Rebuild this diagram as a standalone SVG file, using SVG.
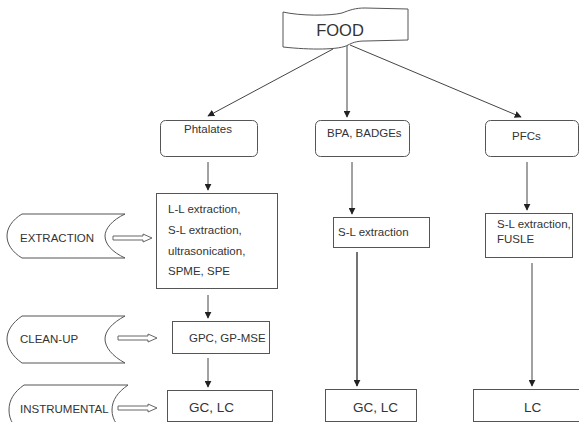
<svg xmlns="http://www.w3.org/2000/svg" width="579" height="422" viewBox="0 0 579 422">
<style>
.s{fill:#fff;stroke:#555;stroke-width:1}
.t{font-family:"Liberation Sans",Arial,sans-serif;font-size:11.5px;fill:#333}
.big{font-size:13.5px}
.c{stroke:#444;stroke-width:1;fill:none}
.h{fill:#fff;stroke:#666;stroke-width:1}
</style>
<defs>
<marker id="ah" viewBox="0 0 10 10" refX="9" refY="5" markerWidth="7" markerHeight="7" markerUnits="userSpaceOnUse" orient="auto">
<path d="M0,0 L10,5 L0,10 Z" fill="#222"/>
</marker>
</defs>
<rect width="579" height="422" fill="#fff"/>

<g id="connectors">
<line class="c" x1="333" y1="49" x2="208" y2="116" marker-end="url(#ah)"/>
<line class="c" x1="347" y1="45" x2="347" y2="117" marker-end="url(#ah)"/>
<line class="c" x1="350" y1="45" x2="521" y2="117" marker-end="url(#ah)"/>
<line class="c" x1="208" y1="162" x2="208" y2="190" marker-end="url(#ah)"/>
<line class="c" x1="208" y1="295" x2="208" y2="318" marker-end="url(#ah)"/>
<line class="c" x1="208" y1="358" x2="208" y2="387" marker-end="url(#ah)"/>
<line class="c" x1="352" y1="162" x2="352" y2="214" marker-end="url(#ah)"/>
<line class="c" x1="357" y1="252" x2="357" y2="386" marker-end="url(#ah)" style="stroke-width:1.5"/>
<line class="c" x1="527" y1="162" x2="527" y2="210" marker-end="url(#ah)"/>
<line class="c" x1="532" y1="263" x2="532" y2="386" marker-end="url(#ah)"/>
<path class="h" d="M113,236 L143,236 L143,234 L152,238 L143,242 L143,240 L113,240 Z"/>
<path class="h" d="M118,336 L148,336 L148,334 L157,338 L148,342 L148,340 L118,340 Z"/>
<path class="h" d="M118,406 L148,406 L148,404 L157,408 L148,412 L148,410 L118,410 Z"/>
</g>

<g id="food">
<path class="s" d="M283,12 C300,16 330,16 342,13 C350,10 355,8 365,8 L408,9 L408,40 L365,41 C356,41 352,43 348,45 C340,50 310,50 283,47 Z"/>
<text class="t" x="340" y="36" text-anchor="middle" style="font-size:16.5px">FOOD</text>
</g>

<g id="phtalates">
<rect class="s" x="160.5" y="120.5" width="97" height="36" rx="5"/>
<text class="t" x="184" y="133">Phtalates</text>
</g>
<g id="bpa">
<rect class="s" x="315.5" y="120.5" width="94" height="36" rx="5"/>
<text class="t" x="327" y="137">BPA, BADGEs</text>
</g>
<g id="pfcs">
<rect class="s" x="485.5" y="120.5" width="93" height="36" rx="5"/>
<text class="t" x="512" y="140">PFCs</text>
</g>

<g id="ll-extraction">
<rect class="s" x="156.5" y="193.5" width="121" height="95"/>
<text class="t" x="168" y="213">L-L extraction,</text>
<text class="t" x="168" y="234">S-L extraction,</text>
<text class="t" x="168" y="255">ultrasonication,</text>
<text class="t" x="168" y="275">SPME, SPE</text>
</g>
<g id="sl-extraction">
<rect class="s" x="333.5" y="217.5" width="96" height="30"/>
<text class="t" x="338" y="236">S-L extraction</text>
</g>
<g id="sl-fusle">
<rect class="s" x="485.5" y="213.5" width="87" height="44"/>
<text class="t" x="497" y="228">S-L extraction,</text>
<text class="t" x="497" y="243">FUSLE</text>
</g>

<g id="gpc">
<rect class="s" x="172.5" y="321.5" width="97" height="32"/>
<text class="t" x="189" y="342">GPC, GP-MSE</text>
</g>

<g id="gclc1">
<rect class="s" x="167.5" y="390.5" width="105" height="31"/>
<text class="t big" x="189" y="412">GC, LC</text>
</g>
<g id="gclc2">
<rect class="s" x="325.5" y="389.5" width="91" height="32"/>
<text class="t big" x="353" y="412">GC, LC</text>
</g>
<g id="lc">
<rect class="s" x="473.5" y="389.5" width="106" height="32"/>
<text class="t big" x="524" y="412">LC</text>
</g>

<g id="extraction">
<path class="s" d="M22,214 L125,214 C112,220 105,229 105,236 C105,244 112,252 125,258 L22,258 C12,252 7,244 7,236 C7,228 12,220 22,214 Z"/>
<text class="t" x="20" y="242">EXTRACTION</text>
</g>
<g id="cleanup">
<path class="s" d="M22,316 L125,316 C112,323 105,331 105,339 C105,347 112,356 125,363 L22,363 C12,356 7,347 7,339 C7,331 12,323 22,316 Z"/>
<text class="t" x="20" y="343">CLEAN-UP</text>
</g>
<g id="instrumental">
<path class="s" d="M24,385 L128,385 C118,392 112,400 112,410 C112,420 118,428 128,434 L24,434 C14,428 9,420 9,410 C9,400 14,392 24,385 Z"/>
<text class="t" x="20" y="413">INSTRUMENTAL</text>
</g>
</svg>
